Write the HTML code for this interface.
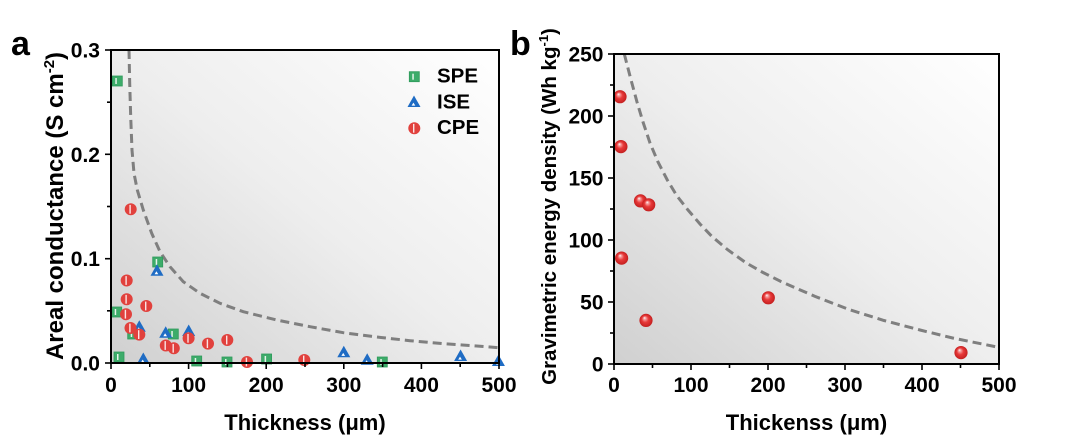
<!DOCTYPE html>
<html><head><meta charset="utf-8"><style>
html,body{margin:0;padding:0;background:#fff;}
svg{display:block;}
text{font-family:"Liberation Sans",Arial,sans-serif;font-weight:bold;fill:#000;}
</style></head><body>
<svg width="1080" height="438" viewBox="0 0 1080 438" xmlns="http://www.w3.org/2000/svg">
<defs>
<linearGradient id="bg" x1="0" y1="1" x2="1" y2="0">
<stop offset="0" stop-color="#d0d0d0"/>
<stop offset="0.5" stop-color="#eeeeee"/>
<stop offset="1" stop-color="#ffffff"/>
</linearGradient>
<radialGradient id="sph" cx="0.5" cy="0.5" r="0.5" fx="0.38" fy="0.3">
<stop offset="0" stop-color="#ffffff"/>
<stop offset="0.18" stop-color="#f6a2a2"/>
<stop offset="0.5" stop-color="#e83a3a"/>
<stop offset="1" stop-color="#c41f1f"/>
</radialGradient>
<g id="sq"><rect x="-5" y="-5" width="10" height="10" fill="#3dac6a" stroke="#2f9a5b" stroke-width="0.8"/><rect x="-2" y="-3" width="1.5" height="6" fill="#e6f4ea"/></g>
<g id="tri"><polygon points="0,-6.5 6.5,5 -6.5,5" fill="#1f6cc4"/><polygon points="-0.6,0.6 1.3,3.6 -2.4,3.6" fill="#ffffff"/></g>
<g id="cir"><circle r="6" fill="#e1413d"/><rect x="-1.3" y="-4.4" width="1.4" height="8.8" fill="#fbe3e3"/></g>
<g id="sp"><circle r="6.6" fill="url(#sph)"/></g>
</defs>

<!-- Panel a -->
<rect x="111" y="50" width="388" height="313" fill="url(#bg)"/>
<polyline fill="none" stroke="#7f7f7f" stroke-width="3" stroke-dasharray="9 5" points="129,50 129.7,83.3 130.7,116.7 132,150 134,173.3 137.3,190 143.3,210 151.7,233.3 160,251.7 170,266.7 183.3,281.7 200,293.3 220,303.3 243.3,311.7 276.7,320 310,326.7 343.3,332.7 376.7,337 410,340.7 443.3,343.7 476.7,346 499,347.7"/>

<!-- SPE -->
<use href="#sq" x="117.3" y="81"/>
<use href="#sq" x="157.7" y="262"/>
<use href="#sq" x="116.7" y="312"/>
<use href="#sq" x="173.3" y="334"/>
<use href="#sq" x="132.7" y="334"/>
<use href="#sq" x="119" y="357"/>
<use href="#sq" x="196.7" y="361"/>
<use href="#sq" x="227" y="362"/>
<use href="#sq" x="266.6" y="359"/>
<use href="#sq" x="382.3" y="362"/>
<!-- ISE -->
<use href="#tri" x="157" y="270.7"/>
<use href="#tri" x="139.3" y="326.7"/>
<use href="#tri" x="165.7" y="332.7"/>
<use href="#tri" x="188.7" y="331"/>
<use href="#tri" x="143.3" y="359"/>
<use href="#tri" x="343.8" y="352.3"/>
<use href="#tri" x="367.2" y="359.7"/>
<use href="#tri" x="460.6" y="356"/>
<use href="#tri" x="498.4" y="361"/>
<!-- CPE -->
<use href="#cir" x="130.7" y="209.3"/>
<use href="#cir" x="126.7" y="280.5"/>
<use href="#cir" x="126.7" y="299.3"/>
<use href="#cir" x="126" y="314.2"/>
<use href="#cir" x="146.3" y="306"/>
<use href="#cir" x="130.5" y="328"/>
<use href="#cir" x="139.3" y="334.6"/>
<use href="#cir" x="165.8" y="345.5"/>
<use href="#cir" x="173.8" y="348.3"/>
<use href="#cir" x="188.6" y="338.3"/>
<use href="#cir" x="208" y="343.6"/>
<use href="#cir" x="227.3" y="340"/>
<use href="#cir" x="247" y="362"/>
<use href="#cir" x="304.3" y="360"/>

<rect x="111" y="50" width="388" height="313" fill="none" stroke="#000" stroke-width="2"/>
<g stroke="#000" stroke-width="1.6">
<line x1="111" y1="363" x2="111" y2="369"/><line x1="188.6" y1="363" x2="188.6" y2="369"/><line x1="266.2" y1="363" x2="266.2" y2="369"/><line x1="343.8" y1="363" x2="343.8" y2="369"/><line x1="421.4" y1="363" x2="421.4" y2="369"/><line x1="499" y1="363" x2="499" y2="369"/>
<line x1="149.8" y1="363" x2="149.8" y2="367"/><line x1="227.4" y1="363" x2="227.4" y2="367"/><line x1="305" y1="363" x2="305" y2="367"/><line x1="382.6" y1="363" x2="382.6" y2="367"/><line x1="460.2" y1="363" x2="460.2" y2="367"/>
<line x1="105" y1="363" x2="111" y2="363"/><line x1="105" y1="258.7" x2="111" y2="258.7"/><line x1="105" y1="154.3" x2="111" y2="154.3"/><line x1="105" y1="50" x2="111" y2="50"/>
<line x1="107" y1="310.8" x2="111" y2="310.8"/><line x1="107" y1="206.5" x2="111" y2="206.5"/><line x1="107" y1="102.2" x2="111" y2="102.2"/>
</g>
<g font-size="21" text-anchor="middle">
<text x="111" y="392">0</text><text x="188.6" y="392">100</text><text x="266.2" y="392">200</text><text x="343.8" y="392">300</text><text x="421.4" y="392">400</text><text x="499" y="392">500</text>
</g>
<g font-size="21" text-anchor="end">
<text x="100" y="370.5">0.0</text><text x="100" y="266.2">0.1</text><text x="100" y="161.8">0.2</text><text x="100" y="57.5">0.3</text>
</g>
<text x="305" y="430" font-size="22" text-anchor="middle">Thickness (μm)</text>
<text transform="translate(63,206) rotate(-90)" font-size="24" text-anchor="middle">Areal conductance (S cm<tspan dy="-9" font-size="15">-2</tspan><tspan dy="9">)</tspan></text>
<text x="11" y="55" font-size="34">a</text>

<!-- legend -->
<use href="#sq" x="414.3" y="76.7"/>
<use href="#tri" x="414" y="102"/>
<use href="#cir" x="414.3" y="128.3"/>
<g font-size="20.5">
<text x="437" y="82.5">SPE</text><text x="437" y="108.5">ISE</text><text x="437" y="134">CPE</text>
</g>

<!-- Panel b -->
<rect x="614" y="54" width="385" height="310" fill="url(#bg)"/>
<polyline fill="none" stroke="#7f7f7f" stroke-width="3" stroke-dasharray="9 5" points="624.3,54 630.5,78 637,102 643,122 650,143 658,162 667.3,180 677,196 688,210 700,224 712,236.5 728,250 746.3,263 763,272.5 780.7,281.4 815,296.4 849.5,309.7 884,320.5 920,330 952.6,338 999,347.4"/>
<use href="#sp" x="620" y="96.7"/>
<use href="#sp" x="620.9" y="146.6"/>
<use href="#sp" x="640.5" y="200.9"/>
<use href="#sp" x="648.7" y="204.8"/>
<use href="#sp" x="621.6" y="258.1"/>
<use href="#sp" x="768.3" y="297.8"/>
<use href="#sp" x="646" y="320.4"/>
<use href="#sp" x="961" y="352.6"/>
<rect x="614" y="54" width="385" height="310" fill="none" stroke="#000" stroke-width="2"/>
<g stroke="#000" stroke-width="1.6">
<line x1="614" y1="364" x2="614" y2="370"/><line x1="691" y1="364" x2="691" y2="370"/><line x1="768" y1="364" x2="768" y2="370"/><line x1="845" y1="364" x2="845" y2="370"/><line x1="922" y1="364" x2="922" y2="370"/><line x1="999" y1="364" x2="999" y2="370"/>
<line x1="652.5" y1="364" x2="652.5" y2="368"/><line x1="729.5" y1="364" x2="729.5" y2="368"/><line x1="806.5" y1="364" x2="806.5" y2="368"/><line x1="883.5" y1="364" x2="883.5" y2="368"/><line x1="960.5" y1="364" x2="960.5" y2="368"/>
<line x1="608" y1="364" x2="614" y2="364"/><line x1="608" y1="302" x2="614" y2="302"/><line x1="608" y1="240" x2="614" y2="240"/><line x1="608" y1="178" x2="614" y2="178"/><line x1="608" y1="116" x2="614" y2="116"/><line x1="608" y1="54" x2="614" y2="54"/>
<line x1="610" y1="333" x2="614" y2="333"/><line x1="610" y1="271" x2="614" y2="271"/><line x1="610" y1="209" x2="614" y2="209"/><line x1="610" y1="147" x2="614" y2="147"/><line x1="610" y1="85" x2="614" y2="85"/>
</g>
<g font-size="21" text-anchor="middle">
<text x="614" y="392">0</text><text x="691" y="392">100</text><text x="768" y="392">200</text><text x="845" y="392">300</text><text x="922" y="392">400</text><text x="999" y="392">500</text>
</g>
<g font-size="21" text-anchor="end">
<text x="603.5" y="371.5">0</text><text x="603.5" y="309.5">50</text><text x="603.5" y="247.5">100</text><text x="603.5" y="185.5">150</text><text x="603.5" y="123.5">200</text><text x="603.5" y="61.5">250</text>
</g>
<text x="806.5" y="430" font-size="22" text-anchor="middle">Thickenss (μm)</text>
<text transform="translate(556,206.5) rotate(-90)" font-size="20.5" text-anchor="middle">Gravimetric energy density (Wh kg<tspan dy="-8" font-size="13">-1</tspan><tspan dy="8">)</tspan></text>
<text x="510" y="55" font-size="34">b</text>
</svg>
</body></html>
